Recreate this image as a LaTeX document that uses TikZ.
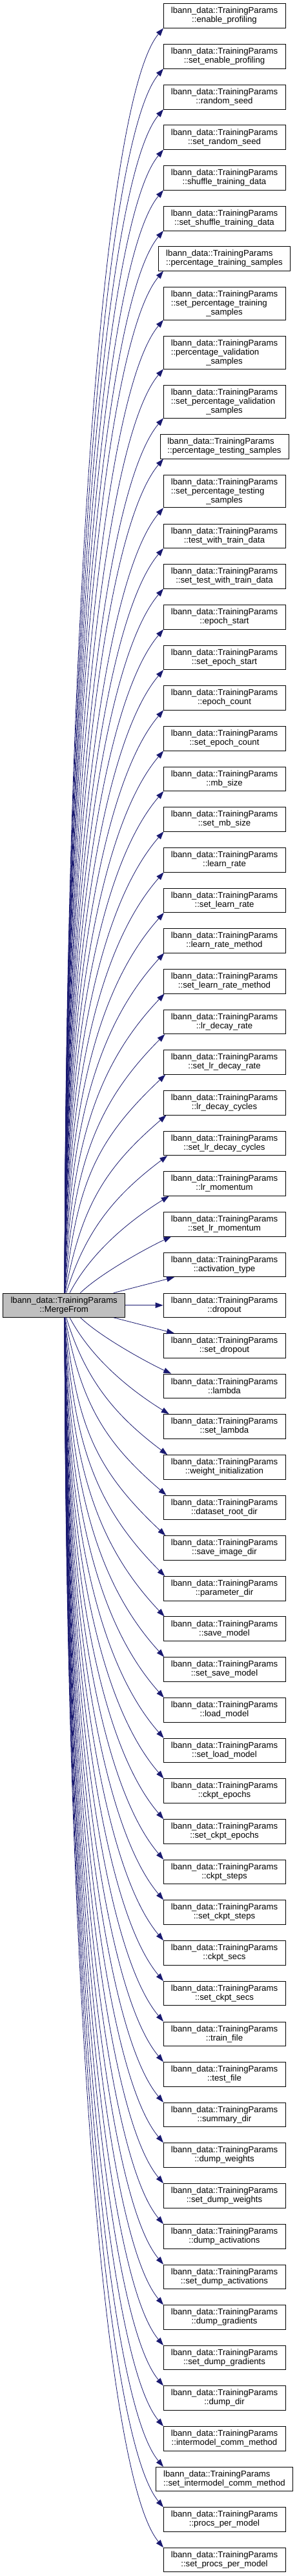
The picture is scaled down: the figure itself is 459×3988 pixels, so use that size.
\documentclass[tikz,border=0pt]{standalone}
\usepackage{fontspec}
\newfontfamily\dxsans{Liberation Sans}
\usetikzlibrary{arrows.meta,calc}
\definecolor{edgeblue}{HTML}{191970}
\definecolor{rootgray}{HTML}{BFBFBF}
\newcommand{\dxfont}{\dxsans\fontsize{13.2}{14}\selectfont}
\newcommand{\tp}{lbann\_data::TrainingParams}
\newsavebox{\tpbox}
\AtBeginDocument{\sbox{\tpbox}{\dxfont\tp}}
\newcommand{\lft}[1]{\makebox[\wd\tpbox][l]{#1}}
\tikzstyle{ndcall} = [draw=black, line width=0.8pt, shape=rectangle, fill=white, minimum width=189pt, minimum height=37.5pt, inner xsep=11.5pt, inner ysep=5pt, align=center, font=\dxfont, text=black]
\tikzstyle{ndwide} = [ndcall, align=left]
\tikzstyle{ndroot} = [ndcall, fill=rootgray]
\tikzstyle{arflat} = [style={->,>={Triangle[length=12pt,width=8.5pt]},line width=0.8pt,edgeblue}]
\tikzstyle{arcall} = [arflat, to path={
  let \p1=(\tikztostart.north), \p2=(\tikztostart.south),
      \p3=(\tikztotarget.south), \p4=(\tikztotarget.north),
      \n1={\y3>\y1 ? 1 : -1},
      \n2={\n1>0 ? \y1 : \y2},
      \n3={\n1>0 ? \y3 : \y4},
      \n4={abs(\n3-\n2)},
      \n5={exp(-min((\n4-25)/55,9))},
      \n6={exp(-min((\n4-25)/126,9))},
      \n7={exp(-min((\n4-25)/189,9))}
  in (\x1+1+75*\n5, \n2)
     .. controls +({\n1*(90-75*\n6)}:{0.5*\n4}) and +({180+\n1*(50-35*\n7)}:{min(150,0.45*\n4)})
     .. (\x3-94.5+17*\n7, \n3) \tikztonodes}]

\begin{document}
\begin{tikzpicture}[x=1pt, y=1pt]
	\useasboundingbox (0,0) rectangle (459,-3988);
	\node[ndroot] (mf) at (99.2,-2020.7) {\tp\\::MergeFrom};
	\node[ndcall] (c1) at (347.5,-24.5) {\tp\\::enable\_profiling};
	\node[ndcall] (c2) at (347.5,-87.2) {\tp\\::set\_enable\_profiling};
	\node[ndcall] (c3) at (347.5,-150.2) {\tp\\::random\_seed};
	\node[ndcall] (c4) at (347.5,-212.6) {\tp\\::set\_random\_seed};
	\node[ndcall] (c5) at (347.5,-275.3) {\tp\\::shuffle\_training\_data};
	\node[ndcall] (c6) at (347.5,-338.2) {\tp\\::set\_shuffle\_training\_data};
	\node[ndwide] (c7) at (347.5,-400.5) {\tp\\::percentage\_training\_samples};
	\node[ndcall] (c8) at (347.5,-469.8) {\tp\\\lft{::set\_percentage\_training}\\\_samples};
	\node[ndcall] (c9) at (347.5,-545.8) {\tp\\\lft{::percentage\_validation}\\\_samples};
	\node[ndcall] (c10) at (347.5,-621.8) {\tp\\\lft{::set\_percentage\_validation}\\\_samples};
	\node[ndwide] (c11) at (347.5,-691.3) {\tp\\::percentage\_testing\_samples};
	\node[ndcall] (c12) at (347.5,-760.7) {\tp\\\lft{::set\_percentage\_testing}\\\_samples};
	\node[ndcall] (c13) at (347.5,-829.8) {\tp\\::test\_with\_train\_data};
	\node[ndcall] (c14) at (347.5,-892.3) {\tp\\::set\_test\_with\_train\_data};
	\node[ndcall] (c15) at (347.5,-955.3) {\tp\\::epoch\_start};
	\node[ndcall] (c16) at (347.5,-1018) {\tp\\::set\_epoch\_start};
	\node[ndcall] (c17) at (347.5,-1080.3) {\tp\\::epoch\_count};
	\node[ndcall] (c18) at (347.5,-1143.3) {\tp\\::set\_epoch\_count};
	\node[ndcall] (c19) at (347.5,-1205.8) {\tp\\::mb\_size};
	\node[ndcall] (c20) at (347.5,-1268.3) {\tp\\::set\_mb\_size};
	\node[ndcall] (c21) at (347.5,-1331.3) {\tp\\::learn\_rate};
	\node[ndcall] (c22) at (347.5,-1394) {\tp\\::set\_learn\_rate};
	\node[ndcall] (c23) at (347.5,-1456.3) {\tp\\::learn\_rate\_method};
	\node[ndcall] (c24) at (347.5,-1519.3) {\tp\\::set\_learn\_rate\_method};
	\node[ndcall] (c25) at (347.5,-1582) {\tp\\::lr\_decay\_rate};
	\node[ndcall] (c26) at (347.5,-1644.5) {\tp\\::set\_lr\_decay\_rate};
	\node[ndcall] (c27) at (347.5,-1707.3) {\tp\\::lr\_decay\_cycles};
	\node[ndcall] (c28) at (347.5,-1770) {\tp\\::set\_lr\_decay\_cycles};
	\node[ndcall] (c29) at (347.5,-1832.5) {\tp\\::lr\_momentum};
	\node[ndcall] (c30) at (347.5,-1895.3) {\tp\\::set\_lr\_momentum};
	\node[ndcall] (c31) at (347.5,-1958) {\tp\\::activation\_type};
	\node[ndcall] (c32) at (347.5,-2020.7) {\tp\\::dropout};
	\node[ndcall] (c33) at (347.5,-2083.3) {\tp\\::set\_dropout};
	\node[ndcall] (c34) at (347.5,-2145.7) {\tp\\::lambda};
	\node[ndcall] (c35) at (347.5,-2208.3) {\tp\\::set\_lambda};
	\node[ndcall] (c36) at (347.5,-2271.3) {\tp\\::weight\_initialization};
	\node[ndcall] (c37) at (347.5,-2333.8) {\tp\\::dataset\_root\_dir};
	\node[ndcall] (c38) at (347.5,-2396.3) {\tp\\::save\_image\_dir};
	\node[ndcall] (c39) at (347.5,-2459.2) {\tp\\::parameter\_dir};
	\node[ndcall] (c40) at (347.5,-2521.5) {\tp\\::save\_model};
	\node[ndcall] (c41) at (347.5,-2584.3) {\tp\\::set\_save\_model};
	\node[ndcall] (c42) at (347.5,-2647.2) {\tp\\::load\_model};
	\node[ndcall] (c43) at (347.5,-2709.8) {\tp\\::set\_load\_model};
	\node[ndcall] (c44) at (347.5,-2772.3) {\tp\\::ckpt\_epochs};
	\node[ndcall] (c45) at (347.5,-2835.3) {\tp\\::set\_ckpt\_epochs};
	\node[ndcall] (c46) at (347.5,-2897.8) {\tp\\::ckpt\_steps};
	\node[ndcall] (c47) at (347.5,-2960.3) {\tp\\::set\_ckpt\_steps};
	\node[ndcall] (c48) at (347.5,-3023.2) {\tp\\::ckpt\_secs};
	\node[ndcall] (c49) at (347.5,-3086) {\tp\\::set\_ckpt\_secs};
	\node[ndcall] (c50) at (347.5,-3148.7) {\tp\\::train\_file};
	\node[ndcall] (c51) at (347.5,-3211.2) {\tp\\::test\_file};
	\node[ndcall] (c52) at (347.5,-3273.8) {\tp\\::summary\_dir};
	\node[ndcall] (c53) at (347.5,-3336.3) {\tp\\::dump\_weights};
	\node[ndcall] (c54) at (347.5,-3399.2) {\tp\\::set\_dump\_weights};
	\node[ndcall] (c55) at (347.5,-3462.2) {\tp\\::dump\_activations};
	\node[ndcall] (c56) at (347.5,-3524.7) {\tp\\::set\_dump\_activations};
	\node[ndcall] (c57) at (347.5,-3587.3) {\tp\\::dump\_gradients};
	\node[ndcall] (c58) at (347.5,-3650) {\tp\\::set\_dump\_gradients};
	\node[ndcall] (c59) at (347.5,-3712.5) {\tp\\::dump\_dir};
	\node[ndcall] (c60) at (347.5,-3775.3) {\tp\\::intermodel\_comm\_method};
	\node[ndwide] (c61) at (347.5,-3838) {\tp\\::set\_intermodel\_comm\_method};
	\node[ndcall] (c62) at (347.5,-3900.5) {\tp\\::procs\_per\_model};
	\node[ndcall] (c63) at (347.5,-3963) {\tp\\::set\_procs\_per\_model};
	\draw[arcall] (mf) to (c1);
	\draw[arcall] (mf) to (c2);
	\draw[arcall] (mf) to (c3);
	\draw[arcall] (mf) to (c4);
	\draw[arcall] (mf) to (c5);
	\draw[arcall] (mf) to (c6);
	\draw[arcall] (mf) to (c7);
	\draw[arcall] (mf) to (c8);
	\draw[arcall] (mf) to (c9);
	\draw[arcall] (mf) to (c10);
	\draw[arcall] (mf) to (c11);
	\draw[arcall] (mf) to (c12);
	\draw[arcall] (mf) to (c13);
	\draw[arcall] (mf) to (c14);
	\draw[arcall] (mf) to (c15);
	\draw[arcall] (mf) to (c16);
	\draw[arcall] (mf) to (c17);
	\draw[arcall] (mf) to (c18);
	\draw[arcall] (mf) to (c19);
	\draw[arcall] (mf) to (c20);
	\draw[arcall] (mf) to (c21);
	\draw[arcall] (mf) to (c22);
	\draw[arcall] (mf) to (c23);
	\draw[arcall] (mf) to (c24);
	\draw[arcall] (mf) to (c25);
	\draw[arcall] (mf) to (c26);
	\draw[arcall] (mf) to (c27);
	\draw[arcall] (mf) to (c28);
	\draw[arcall] (mf) to (c29);
	\draw[arcall] (mf) to (c30);
	\draw[arcall] (mf) to (c31);
	\draw[arflat] (mf) to (c32);
	\draw[arcall] (mf) to (c33);
	\draw[arcall] (mf) to (c34);
	\draw[arcall] (mf) to (c35);
	\draw[arcall] (mf) to (c36);
	\draw[arcall] (mf) to (c37);
	\draw[arcall] (mf) to (c38);
	\draw[arcall] (mf) to (c39);
	\draw[arcall] (mf) to (c40);
	\draw[arcall] (mf) to (c41);
	\draw[arcall] (mf) to (c42);
	\draw[arcall] (mf) to (c43);
	\draw[arcall] (mf) to (c44);
	\draw[arcall] (mf) to (c45);
	\draw[arcall] (mf) to (c46);
	\draw[arcall] (mf) to (c47);
	\draw[arcall] (mf) to (c48);
	\draw[arcall] (mf) to (c49);
	\draw[arcall] (mf) to (c50);
	\draw[arcall] (mf) to (c51);
	\draw[arcall] (mf) to (c52);
	\draw[arcall] (mf) to (c53);
	\draw[arcall] (mf) to (c54);
	\draw[arcall] (mf) to (c55);
	\draw[arcall] (mf) to (c56);
	\draw[arcall] (mf) to (c57);
	\draw[arcall] (mf) to (c58);
	\draw[arcall] (mf) to (c59);
	\draw[arcall] (mf) to (c60);
	\draw[arcall] (mf) to (c61);
	\draw[arcall] (mf) to (c62);
	\draw[arcall] (mf) to (c63);
\end{tikzpicture}
\end{document}
